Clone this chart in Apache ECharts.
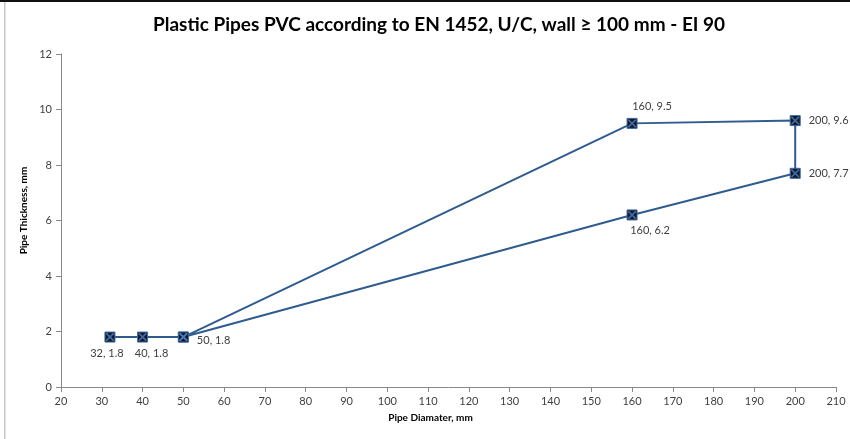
<!DOCTYPE html>
<html>
<head>
<meta charset="utf-8">
<script src="https://cdn.jsdelivr.net/npm/echarts@6/dist/echarts.min.js"></script>
<style>
html,body{margin:0;padding:0;background:#fff;}
#c{width:850px;height:439px;}
</style>
</head>
<body>
<div id="c"></div>
<script>
const diameters = [32, 40, 50, 160, 200, 200, 160, 50];
const thickness = [1.8, 1.8, 1.8, 9.5, 9.6, 7.7, 6.2, 1.8];
const labelPos = ['bottom', 'bottom', 'right', 'top', 'right', 'right', 'bottom', 'none'];
const xTicks = [20, 30, 40, 50, 60, 70, 80, 90, 100, 110, 120, 130, 140, 150, 160, 170, 180, 190, 200, 210];
const yTicks = [0, 2, 4, 6, 8, 10, 12];

const FONT = 'Lato, "Noto Sans", sans-serif';
const lineColor = '#2f5b8f';
const bottomOffsets = { 0: [-3, 0], 1: [9, 0], 6: [18, 0] };
const data = diameters.map((d, i) => {
  const p = labelPos[i];
  const item = { value: [d, thickness[i]] };
  if (p === 'none') {
    item.label = { show: false };
  } else if (p === 'bottom') {
    item.label = { position: 'bottom', distance: 5, offset: bottomOffsets[i] || [0, 0] };
  } else if (p === 'top') {
    item.label = { position: 'top', distance: 6, offset: [20, 0] };
  } else {
    item.label = { position: 'right', distance: 8, offset: i === 2 ? [0, 3] : [0, 0] };
  }
  return item;
});

const xPath = 'path://M0,0 L1.5,0 L5,3.5 L8.5,0 L10,0 L10,1.5 L6.5,5 L10,8.5 L10,10 L8.5,10 L5,6.5 L1.5,10 L0,10 L0,8.5 L3.5,5 L0,1.5 Z';

const chart = echarts.init(document.getElementById('c'));
chart.setOption({
  animation: false,
  backgroundColor: '#fff',
  title: {
    text: 'Plastic Pipes PVC according to EN 1452, U/C, wall ≥ 100 mm - EI 90',
    left: 148,
    top: 10,
    textStyle: { fontFamily: FONT, fontWeight: 'bold', fontSize: 19, color: '#000' }
  },
  grid: { left: 61, right: 14, top: 54, bottom: 52 },
  xAxis: {
    type: 'value',
    min: xTicks[0], max: xTicks[xTicks.length - 1], interval: 10,
    name: 'Pipe Diamater, mm',
    nameLocation: 'middle',
    nameGap: 26,
    nameTextStyle: { fontFamily: FONT, fontWeight: 'bold', fontSize: 10, color: '#000', padding: [0, 36, 0, 0] },
    axisLine: { lineStyle: { color: '#898989', width: 1 } },
    axisTick: { show: true, length: 5, lineStyle: { color: '#898989' } },
    axisLabel: { fontFamily: FONT, fontSize: 11, color: '#404040', margin: 9 },
    splitLine: { show: false }
  },
  yAxis: {
    type: 'value',
    min: yTicks[0], max: yTicks[yTicks.length - 1], interval: 2,
    name: 'Pipe Thickness, mm',
    nameLocation: 'middle',
    nameGap: 27,
    nameTextStyle: { fontFamily: FONT, fontWeight: 'bold', fontSize: 10, color: '#000', padding: [0, 0, 0, 20] },
    axisLine: { show: true, lineStyle: { color: '#898989', width: 1 } },
    axisTick: { show: true, length: 5, lineStyle: { color: '#898989' } },
    axisLabel: { fontFamily: FONT, fontSize: 11, color: '#404040', margin: 9 },
    splitLine: { show: false }
  },
  series: [
    {
      type: 'line',
      data: data,
      symbol: 'rect',
      symbolSize: 10,
      lineStyle: { color: lineColor, width: 2 },
      itemStyle: { color: '#0e1a2c', borderColor: '#3e6aa3', borderWidth: 1 },
      label: {
        show: true,
        fontFamily: FONT,
        fontSize: 11,
        color: '#404040',
        formatter: p => p.value[0] + ', ' + p.value[1]
      },
      z: 2
    },
    {
      type: 'scatter',
      data: diameters.map((d, i) => [d, thickness[i]]),
      symbol: xPath,
      symbolSize: 8,
      itemStyle: { color: '#4f80c0' },
      silent: true,
      z: 3
    }
  ],
  graphic: [
    { type: 'rect', shape: { x: 0, y: 0, width: 850, height: 2 }, style: { fill: '#111' }, silent: true },
    { type: 'rect', shape: { x: 4, y: 2, width: 1.5, height: 437 }, style: { fill: '#c8c8c8' }, silent: true }
  ]
});
</script>
</body>
</html>
